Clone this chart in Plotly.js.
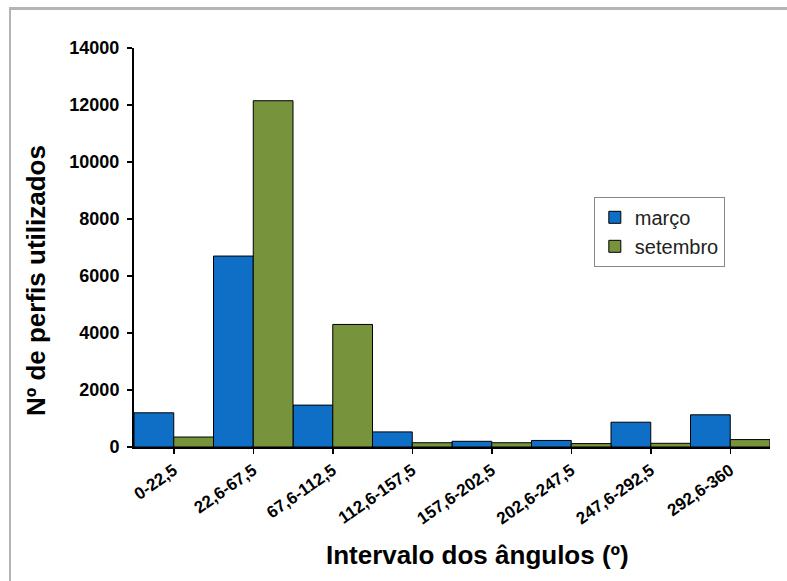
<!DOCTYPE html>
<html>
<head>
<meta charset="utf-8">
<script src="https://cdn.plot.ly/plotly-3.0.1.min.js"></script>
<style>
html,body{margin:0;padding:0;background:#fff;}
#wrap{position:relative;width:787px;height:581px;overflow:hidden;}
#chart{width:787px;height:581px;}
#frame{position:absolute;left:9px;top:7px;width:800px;height:600px;border-top:3px solid #b4b4b4;border-left:2px solid #b4b4b4;pointer-events:none;}
</style>
</head>
<body>
<div id="wrap"><div id="chart"></div><div id="frame"></div></div>
<script>
const categories = ["0-22,5","22,6-67,5","67,6-112,5","112,6-157,5","157,6-202,5","202,6-247,5","247,6-292,5","292,6-360"];
const marco = [1200, 6700, 1470, 530, 200, 230, 870, 1130];
const setembro = [350, 12150, 4300, 150, 150, 120, 130, 260];
const seriesNames = ["março", "setembro"];
const xTitle = "Intervalo dos ângulos (º)";
const yTitle = "Nº de perfis utilizados";

const font = "Liberation Sans, Arial, sans-serif";
const traces = [
  {type:"bar", name:seriesNames[0], x:categories, y:marco,
   marker:{color:"#0f6fc6", line:{color:"#000", width:1}}},
  {type:"bar", name:seriesNames[1], x:categories, y:setembro,
   marker:{color:"#77933c", line:{color:"#000", width:1}}}
];
const layout = {
  width:787, height:581,
  margin:{l:134, r:17, t:48, b:134},
  paper_bgcolor:"#fff", plot_bgcolor:"#fff",
  barmode:"group", bargap:0, bargroupgap:0,
  showlegend:true,
  legend:{x:0.723, y:0.627, xanchor:"left", yanchor:"top",
    bordercolor:"#888", borderwidth:1, bgcolor:"#fff",
    font:{family:font, size:20, color:"#222"}, tracegroupgap:0},
  xaxis:{
    type:"category", showline:true, linecolor:"#000", linewidth:2,
    ticks:"outside", ticklen:5, tickcolor:"#000", tickwidth:1.5,
    tickangle:-35, tickfont:{family:font, size:17, color:"#000", weight:"bold"},
    showgrid:false, zeroline:false
  },
  yaxis:{
    range:[0,14000], dtick:2000, tickformat:"d", showline:true, linecolor:"#000", linewidth:2,
    ticks:"outside", ticklen:5, tickcolor:"#000", tickwidth:1.5, ticklabelstandoff:4,
    tickfont:{family:font, size:18, color:"#000", weight:"bold"},
    showgrid:false, zeroline:false
  },
  annotations:[
    {text:"<b>"+xTitle+"</b>", xref:"paper", yref:"paper", x:0.54, y:-0.27,
     xanchor:"center", yanchor:"middle", showarrow:false,
     font:{family:font, size:26, color:"#000"}},
    {text:"<b>"+yTitle+"</b>", xref:"paper", yref:"paper", x:-0.154, y:0.416,
     xanchor:"center", yanchor:"middle", textangle:-90, showarrow:false,
     font:{family:font, size:26, color:"#000"}}
  ]
};
Plotly.newPlot("chart", traces, layout, {staticPlot:true, displayModeBar:false});
</script>
</body>
</html>
